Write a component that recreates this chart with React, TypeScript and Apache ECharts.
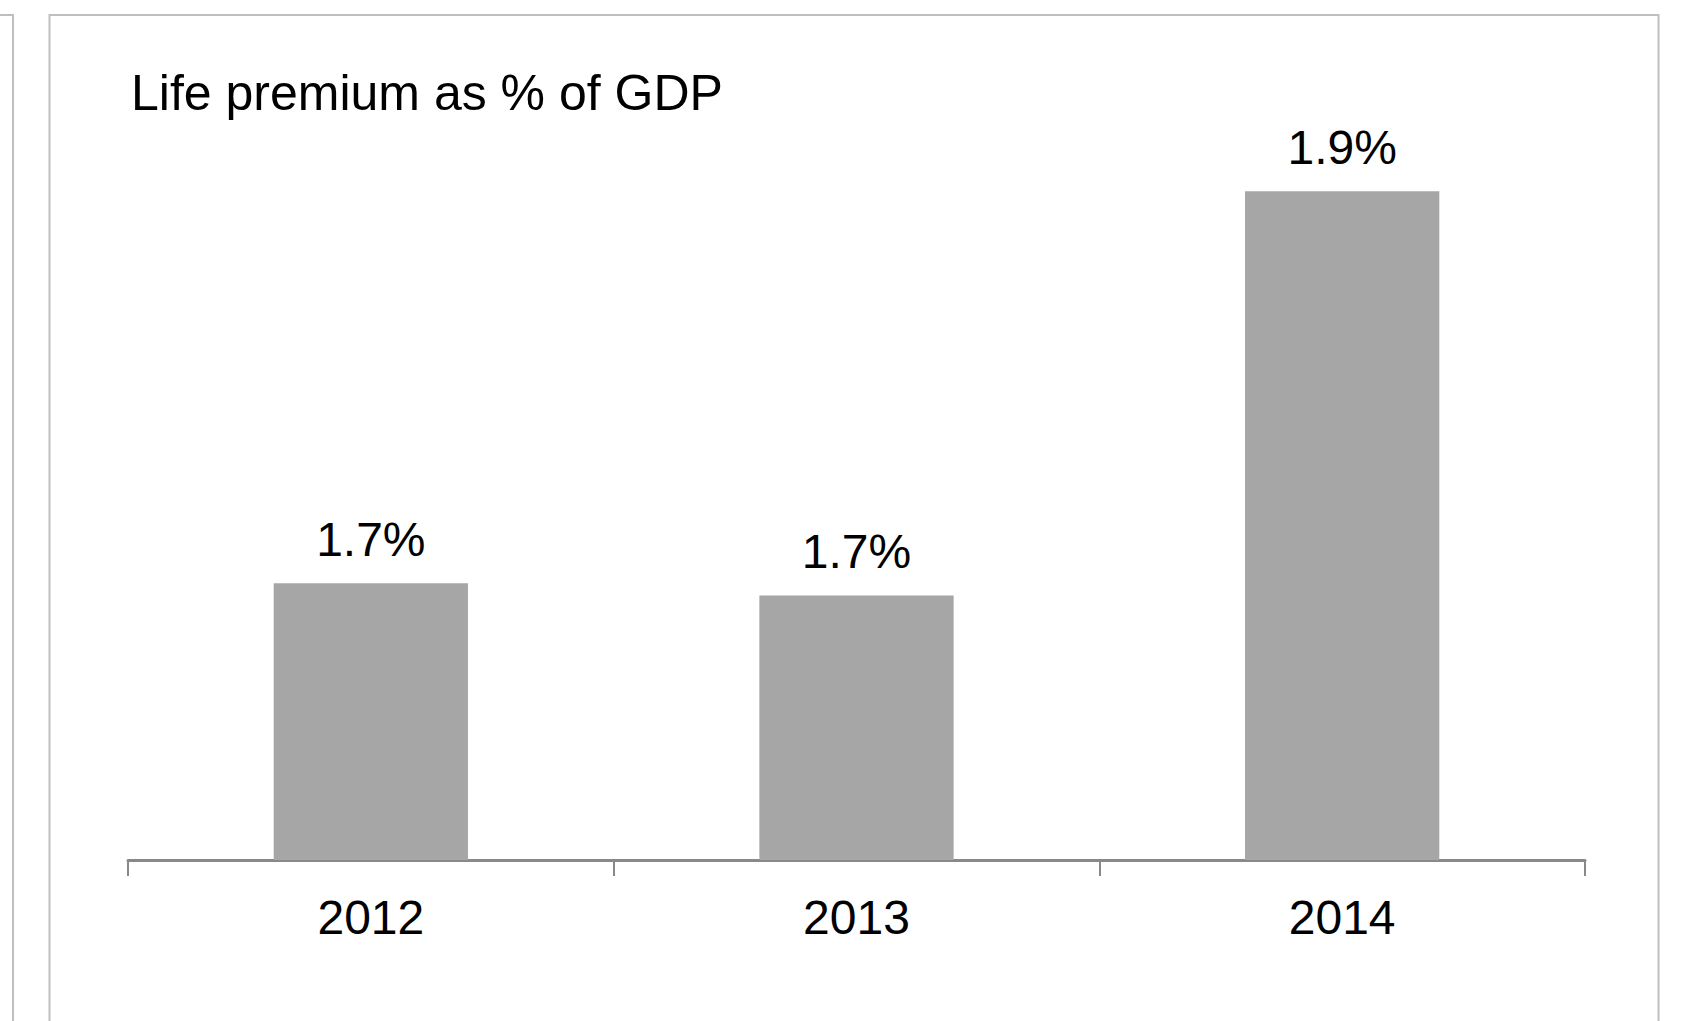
import React, { useEffect, useRef } from "react";
import * as echarts from "echarts";

const categories = ["2012", "2013", "2014"];
const lifePremiumPctGdp = [1.682, 1.674, 1.94];
const chartTitle = "Life premium as % of GDP";

export default function App() {
  const ref = useRef<HTMLDivElement>(null);
  useEffect(() => {
    if (!ref.current) return;
    const chart = echarts.init(ref.current, undefined, { renderer: "svg" });
    const font = "'Liberation Sans', Arial, Helvetica, sans-serif";
    chart.setOption({
      animation: false,
      backgroundColor: "#ffffff",
      textStyle: { fontFamily: font },
      title: {
        text: chartTitle,
        left: 131,
        top: 68,
        padding: 0,
        textStyle: { fontFamily: font, fontSize: 50, fontWeight: "normal", color: "#000000" },
      },
      graphic: [
        {
          type: "rect",
          shape: { x: -100, y: 15, width: 113, height: 1100 },
          style: { fill: "none", stroke: "#bfbfbf", lineWidth: 2 },
          silent: true,
        },
        {
          type: "rect",
          shape: { x: 49.5, y: 15, width: 1609, height: 1100 },
          style: { fill: "none", stroke: "#bfbfbf", lineWidth: 2 },
          silent: true,
        },
      ],
      grid: { left: 128, right: 107, top: 100, bottom: 161, containLabel: false },
      xAxis: {
        type: "category",
        data: categories,
        boundaryGap: true,
        axisLine: { show: true, lineStyle: { color: "#898989", width: 3 } },
        axisTick: { show: true, length: 16, alignWithLabel: false, lineStyle: { color: "#898989", width: 2 } },
        axisLabel: { margin: 33, fontSize: 48, color: "#000000", fontFamily: font },
        splitLine: { show: false },
      },
      yAxis: {
        type: "value",
        min: 1.5,
        max: 2.0,
        show: false,
        splitLine: { show: false },
      },
      series: [
        {
          type: "bar",
          data: lifePremiumPctGdp,
          barWidth: "40%",
          itemStyle: { color: "#a6a6a6" },
          label: {
            show: true,
            position: "top",
            distance: 20,
            fontSize: 48,
            color: "#000000",
            fontFamily: font,
            formatter: (p: any) => p.value.toFixed(1) + "%",
          },
        },
      ],
    });
    return () => chart.dispose();
  }, []);
  return (
    <div
      ref={ref}
      style={{ position: "fixed", left: 0, top: 0, width: 1692, height: 1021, background: "#fff" }}
    />
  );
}
